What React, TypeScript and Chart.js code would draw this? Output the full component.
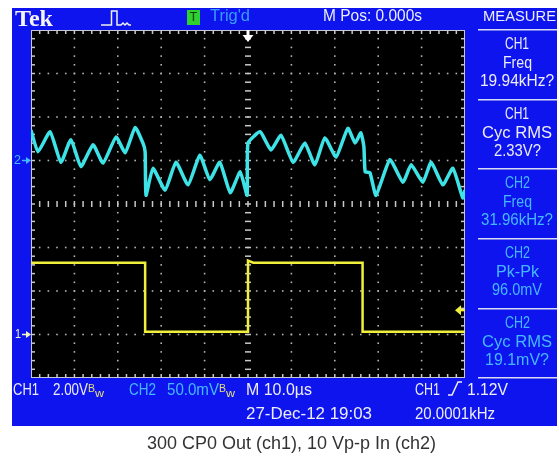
import React, { useEffect, useRef } from "react";
import { Chart, registerables } from "chart.js";

Chart.register(...registerables);

// ---------- data ----------
// horizontal: 10.0 µs/div, 10 divisions
const timeMinUs = 0;
const timeMaxUs = 100;

// CH1 (yellow) 2.00 V/div, ground marker "1" three divisions below centre
const ch1TimeUs = [0, 26.3, 26.3, 50.0, 50.0, 51.2, 76.4, 76.4, 100];
const ch1Volts = [3.3, 3.3, 0.13, 0.13, 3.4, 3.3, 3.3, 0.13, 0.13];
const ch1VoltsPerDiv = 2;
const ch1GroundDiv = -3;
const triggerLevelV = 1.12;
const triggerTimeUs = 50;

// CH2 (cyan) 50.0 mV/div, ground marker "2" one division above centre
const ch2TimeUs = [
  0, 1.6, 4.4, 6.9, 9.2, 11.5, 14.3, 16.6, 19.6, 21.7, 24.0, 25.8, 26.3, 26.5, 28.1,
  30.9, 33.4, 36.2, 38.9, 41.2, 43.5, 45.9, 48.2, 49.8, 50.0, 52.8, 55.3, 57.6, 60.4, 63.1,
  65.4, 67.7, 70.3, 73.0, 74.7, 76.0, 76.7, 77.0, 78.1, 79.5, 82.7, 85.7, 87.6, 90.3, 92.2,
  94.9, 97.2, 99.5, 100,
];
const ch2MilliVolts = [
  35, 10, 33, -2, 24, -7, 18, -3, 27, 9, 38, 20, 10, -40, -9,
  -34, -2, -28, 6, -22, -2, -37, -13, -40, 20, 33, 12, 29, -2, 20,
  -5, 26, 4, 37, 20, 32, 16, -13, -14, -40, 1, -25, -5, -25, -2,
  -28, -9, -43, -34,
];
const ch2MilliVoltsPerDiv = 50;
const ch2GroundDiv = 1;

const measureLabels = [
  ["CH1", "Freq", "19.94kHz?"],
  ["CH1", "Cyc RMS", "2.33V?"],
  ["CH2", "Freq", "31.96kHz?"],
  ["CH2", "Pk-Pk", "96.0mV"],
  ["CH2", "Cyc RMS", "19.1mV?"],
];
const caption = "300 CP0 Out (ch1), 10 Vp-p In (ch2)";

// ---------- styles ----------
const W = 559;
const H = 456;
const BLUE = "rgb(14,20,238)";
const WHITE = "#ecedf6";
const CYAN_TXT = "#45b8ff";
const BW_COL = "#e4e07a";
const YEL = "#f0f03c";
const CYAN = "#3de3e6";
const SANS = '"Liberation Sans", Arial, sans-serif';
const SERIF = '"Liberation Serif", "Times New Roman", serif';
const PLOT = { left: 31, top: 30, right: 465, bottom: 378 };

const measureCtx =
  typeof document !== "undefined" ? document.createElement("canvas").getContext("2d") : null;

function Label(props: {
  text: string;
  x1: number;
  x2: number;
  yc: number;
  size: number;
  color: string;
  family?: string;
  weight?: string;
}) {
  const { text, x1, x2, yc, size, color } = props;
  const family = props.family || SANS;
  const weight = props.weight || "normal";
  let sx = 1;
  if (measureCtx) {
    measureCtx.font = `${weight} ${size}px ${family}`;
    const m = measureCtx.measureText(text).width;
    if (m > 0) sx = (x2 - x1) / m;
  }
  return (
    <div
      style={{
        position: "absolute",
        left: x1,
        top: yc - size * 0.5,
        fontFamily: family,
        fontSize: size,
        fontWeight: weight as any,
        lineHeight: `${size}px`,
        color,
        whiteSpace: "nowrap",
        transform: `scaleX(${sx})`,
        transformOrigin: "0 0",
      }}
    >
      {text}
    </div>
  );
}

const scopePlugin = {
  id: "scope",
  beforeDraw(chart: any) {
    const { ctx, chartArea: a } = chart;
    ctx.save();
    ctx.fillStyle = "#ffffff";
    ctx.fillRect(0, 0, chart.width, chart.height);
    ctx.fillStyle = BLUE;
    ctx.fillRect(12, 8, 545, 418);
    ctx.fillStyle = "#000000";
    ctx.fillRect(a.left, a.top, a.right - a.left, a.bottom - a.top);

    // panel separators
    ctx.fillStyle = "#d8dcf0";
    [29, 99, 168, 238, 308, 377].forEach((y) => ctx.fillRect(478, y, 79, 1.5));

    // trigger-type icon (top bar)
    ctx.strokeStyle = "#f0f0f0";
    ctx.lineWidth = 1.5;
    ctx.beginPath();
    ctx.moveTo(101, 25);
    ctx.lineTo(111.5, 25);
    ctx.lineTo(111.5, 11);
    ctx.lineTo(117, 11);
    ctx.lineTo(117, 25);
    ctx.lineTo(121, 25);
    ctx.lineTo(123, 23);
    ctx.lineTo(125, 25);
    ctx.lineTo(127, 23);
    ctx.lineTo(129, 25);
    ctx.lineTo(131, 25);
    ctx.stroke();

    // slope icon (bottom bar)
    ctx.beginPath();
    ctx.moveTo(448, 395);
    ctx.lineTo(452, 395);
    ctx.lineTo(458, 382);
    ctx.lineTo(462, 382);
    ctx.stroke();

    // graticule
    const w = a.right - a.left;
    const h = a.bottom - a.top;
    const dx = w / 10;
    const dy = h / 8;
    ctx.fillStyle = "#b4b4b4";
    for (let i = 1; i < 10; i++) {
      if (i === 5) continue;
      const x = a.left + i * dx;
      for (let k = 1; k < 40; k++) ctx.fillRect(x - 0.8, a.top + (k * dy) / 5 - 0.8, 1.6, 1.6);
    }
    for (let j = 1; j < 8; j++) {
      if (j === 4) continue;
      const y = a.top + j * dy;
      for (let k = 1; k < 50; k++) ctx.fillRect(a.left + (k * dx) / 5 - 0.8, y - 0.8, 1.6, 1.6);
    }
    ctx.fillStyle = "#c8c8c8";
    const cx = a.left + 5 * dx;
    const cy = a.top + 4 * dy;
    for (let k = 1; k < 40; k++) ctx.fillRect(cx - 3, a.top + (k * dy) / 5 - 0.75, 6, 1.5);
    for (let k = 1; k < 50; k++) ctx.fillRect(a.left + (k * dx) / 5 - 0.75, cy - 3, 1.5, 6);
    for (let k = 1; k < 50; k++) {
      const x = a.left + (k * dx) / 5 - 0.75;
      ctx.fillRect(x, a.top, 1.5, 4);
      ctx.fillRect(x, a.bottom - 4, 1.5, 4);
    }
    for (let k = 1; k < 40; k++) {
      const y = a.top + (k * dy) / 5 - 0.75;
      ctx.fillRect(a.left, y, 4, 1.5);
      ctx.fillRect(a.right - 4, y, 4, 1.5);
    }
    ctx.strokeStyle = "#c8c8d8";
    ctx.lineWidth = 1;
    ctx.strokeRect(a.left + 0.5, a.top + 0.5, w - 1, h - 1);

    // ground markers arrows
    const y2 = chart.scales.y2.getPixelForValue(0);
    const y1 = chart.scales.y1.getPixelForValue(0);
    const marker = (y: number, color: string) => {
      ctx.strokeStyle = color;
      ctx.fillStyle = color;
      ctx.lineWidth = 1.5;
      ctx.beginPath();
      ctx.moveTo(22, y);
      ctx.lineTo(27, y);
      ctx.stroke();
      ctx.beginPath();
      ctx.moveTo(31, y);
      ctx.lineTo(26, y - 3.5);
      ctx.lineTo(26, y + 3.5);
      ctx.closePath();
      ctx.fill();
    };
    marker(y2, CYAN_TXT);
    marker(y1, "#f4f4c0");
    ctx.restore();
  },
  afterDatasetsDraw(chart: any) {
    const { ctx, chartArea: a } = chart;
    ctx.save();
    // trigger position
    const tx = chart.scales.x.getPixelForValue(triggerTimeUs);
    ctx.fillStyle = "#ffffff";
    ctx.fillRect(tx - 1.5, a.top, 3, 5);
    ctx.beginPath();
    ctx.moveTo(tx - 5.5, a.top + 5);
    ctx.lineTo(tx + 5.5, a.top + 5);
    ctx.lineTo(tx, a.top + 12);
    ctx.closePath();
    ctx.fill();
    // trigger level
    const ty = chart.scales.y1.getPixelForValue(triggerLevelV);
    ctx.fillStyle = YEL;
    ctx.beginPath();
    ctx.moveTo(a.right - 10, ty);
    ctx.lineTo(a.right - 4, ty - 5);
    ctx.lineTo(a.right - 4, ty + 5);
    ctx.closePath();
    ctx.fill();
    ctx.fillRect(a.right - 5, ty - 1.2, 5, 2.4);
    ctx.restore();
  },
};

export default function App() {
  const ref = useRef<HTMLCanvasElement | null>(null);

  useEffect(() => {
    if (!ref.current) return;
    const ch1Min = (-4 - ch1GroundDiv) * ch1VoltsPerDiv;
    const ch1Max = (4 - ch1GroundDiv) * ch1VoltsPerDiv;
    const ch2Min = (-4 - ch2GroundDiv) * ch2MilliVoltsPerDiv;
    const ch2Max = (4 - ch2GroundDiv) * ch2MilliVoltsPerDiv;
    const chart = new Chart(ref.current, {
      type: "line",
      data: {
        datasets: [
          {
            label: "CH1",
            data: ch1TimeUs.map((t, i) => ({ x: t, y: ch1Volts[i] })),
            xAxisID: "x",
            yAxisID: "y1",
            borderColor: YEL,
            borderWidth: 2.5,
            pointRadius: 0,
            tension: 0,
            fill: false,
          },
          {
            label: "CH2",
            data: ch2TimeUs.map((t, i) => ({ x: t, y: ch2MilliVolts[i] })),
            xAxisID: "x",
            yAxisID: "y2",
            borderColor: CYAN,
            borderWidth: 3.5,
            pointRadius: 0,
            tension: 0.15,
            fill: false,
          },
        ],
      },
      options: {
        responsive: false,
        animation: false,
        devicePixelRatio: 1,
        events: [],
        layout: {
          padding: {
            left: PLOT.left,
            top: PLOT.top,
            right: W - PLOT.right,
            bottom: H - PLOT.bottom,
          },
        },
        plugins: {
          legend: { display: false },
          tooltip: { enabled: false },
          title: { display: false },
        },
        scales: {
          x: { type: "linear", min: timeMinUs, max: timeMaxUs, display: false },
          y1: { type: "linear", min: ch1Min, max: ch1Max, display: false },
          y2: { type: "linear", min: ch2Min, max: ch2Max, display: false },
        },
      },
      plugins: [scopePlugin],
    });
    return () => chart.destroy();
  }, []);

  const blockTop = [29, 99, 168, 238, 308];
  const panelCenter = 517;
  const widths: Record<string, number> = {
    CH1: 24,
    CH2: 25,
    Freq: 29,
    "Cyc RMS": 70,
    "Pk-Pk": 43,
    "19.94kHz?": 74,
    "2.33V?": 47,
    "31.96kHz?": 72,
    "96.0mV": 50,
    "19.1mV?": 64,
  };

  return (
    <div style={{ position: "absolute", left: 0, top: 0, width: W, height: H, background: "#fff" }}>
      <canvas ref={ref} width={W} height={H} style={{ display: "block", width: W, height: H }} />
      {/* top bar */}
      <Label text="Tek" x1={15} x2={53} yc={18} size={24} color="#f4f4f4" family={SERIF} weight="bold" />
      <div
        style={{
          position: "absolute",
          left: 187,
          top: 10,
          width: 13,
          height: 15,
          background: "#2ed12e",
          color: "#0b3b0b",
          fontFamily: SANS,
          fontSize: 12,
          lineHeight: "15px",
          textAlign: "center",
        }}
      >
        T
      </div>
      <Label text="Trig'd" x1={210} x2={250} yc={16} size={16} color="#3a9cff" />
      <Label text="M Pos: 0.000s" x1={323} x2={422} yc={16} size={16} color={WHITE} />
      <Label text="MEASURE" x1={483} x2={556} yc={16} size={15.5} color={WHITE} />
      {/* measure panel */}
      {measureLabels.map((block, bi) =>
        block.map((t, li) => {
          const w = widths[t] || 40;
          return (
            <Label
              key={`${bi}-${li}`}
              text={t}
              x1={panelCenter - w / 2}
              x2={panelCenter + w / 2}
              yc={blockTop[bi] + [15, 33.5, 52][li]}
              size={16}
              color={bi < 2 ? WHITE : CYAN_TXT}
            />
          );
        })
      )}
      {/* ground markers */}
      <Label text="2" x1={14} x2={21} yc={160} size={12} color={CYAN_TXT} />
      <Label text="1" x1={15} x2={21} yc={334} size={12} color="#f4f4c0" />
      {/* bottom bar */}
      <Label text="CH1" x1={13} x2={39} yc={389} size={17} color={WHITE} />
      <Label text="2.00V" x1={53} x2={88} yc={389} size={17} color={WHITE} />
      <Label text="B" x1={88} x2={95} yc={388} size={11} color={BW_COL} />
      <Label text="w" x1={95} x2={104} yc={393} size={11} color={BW_COL} />
      <Label text="CH2" x1={129} x2={156} yc={389} size={17} color={CYAN_TXT} />
      <Label text="50.0mV" x1={167} x2={219} yc={389} size={17} color={CYAN_TXT} />
      <Label text="B" x1={219} x2={226} yc={388} size={11} color={BW_COL} />
      <Label text="w" x1={226} x2={235} yc={393} size={11} color={BW_COL} />
      <Label text="M 10.0µs" x1={246} x2={312} yc={389} size={17} color={WHITE} />
      <Label text="CH1" x1={415} x2={440} yc={389} size={17} color={WHITE} />
      <Label text="1.12V" x1={467} x2={508} yc={389} size={17} color={WHITE} />
      <Label text="27-Dec-12 19:03" x1={246} x2={372} yc={413} size={17} color={WHITE} />
      <Label text="20.0001kHz" x1={415} x2={495} yc={413} size={17} color={WHITE} />
      {/* caption */}
      <Label text={caption} x1={147} x2={436} yc={444} size={17.5} color="#333333" />
    </div>
  );
}
